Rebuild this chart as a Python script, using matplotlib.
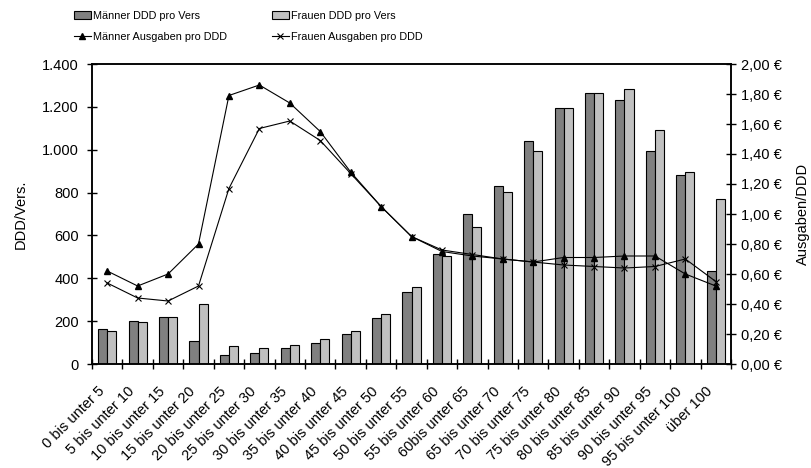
import numpy as np
import matplotlib
matplotlib.use('Agg')
import matplotlib.pyplot as plt
import matplotlib.transforms as mtransforms
from matplotlib.lines import Line2D
from matplotlib.patches import Patch
from matplotlib.ticker import FuncFormatter

# Altersgruppen und Werte
altersgruppen = ['0 bis unter 5', '5 bis unter 10', '10 bis unter 15', '15 bis unter 20',
                 '20 bis unter 25', '25 bis unter 30', '30 bis unter 35', '35 bis unter 40',
                 '40 bis unter 45', '45 bis unter 50', '50 bis unter 55', '55 bis unter 60',
                 '60bis unter 65', '65 bis unter 70', '70 bis unter 75', '75 bis unter 80',
                 '80 bis unter 85', '85 bis unter 90', '90 bis unter 95', '95 bis unter 100',
                 'über 100']
maenner_ddd = [162, 202, 221, 107, 40, 50, 73, 100, 140, 216, 338, 512, 698, 832,
               1042, 1196, 1263, 1230, 994, 880, 432]
frauen_ddd = [155, 198, 221, 282, 86, 73, 89, 115, 156, 233, 358, 502, 641, 804,
              995, 1193, 1263, 1285, 1092, 896, 770]
maenner_ausg = [0.62, 0.52, 0.60, 0.80, 1.79, 1.86, 1.74, 1.55, 1.28, 1.05, 0.85, 0.75,
                0.72, 0.70, 0.68, 0.71, 0.71, 0.72, 0.72, 0.60, 0.52]
frauen_ausg = [0.54, 0.44, 0.42, 0.52, 1.17, 1.57, 1.62, 1.49, 1.27, 1.05, 0.85, 0.76,
               0.73, 0.70, 0.68, 0.66, 0.65, 0.64, 0.65, 0.70, 0.55]

plt.rcParams['font.family'] = ['Liberation Sans', 'DejaVu Sans']

fig = plt.figure(figsize=(8.11, 4.68), dpi=100)
ax = fig.add_axes([92 / 811, 1 - 364 / 468, 639 / 811, 300 / 468])
ax2 = ax.twinx()

x = np.arange(len(altersgruppen))
w = 0.3
ax.bar(x - w / 2, maenner_ddd, w, color='#808080', edgecolor='black', linewidth=0.8, zorder=2)
ax.bar(x + w / 2, frauen_ddd, w, color='#c0c0c0', edgecolor='black', linewidth=0.8, zorder=2)

ax2.plot(x, maenner_ausg, color='black', lw=0.8, marker='^', ms=5, mfc='black', mec='black')
ax2.plot(x, frauen_ausg, color='black', lw=0.8, marker='x', ms=5, mew=0.8)

ax.set_xlim(-0.5, len(x) - 0.5)
ax.set_ylim(0, 1400)
ax2.set_ylim(0, 2.0)
ax.set_yticks(np.arange(0, 1401, 200))
ax2.set_yticks(np.arange(0, 2.01, 0.2))
ax.yaxis.set_major_formatter(FuncFormatter(lambda v, p: f'{int(v):,}'.replace(',', '.')))
ax2.yaxis.set_major_formatter(FuncFormatter(lambda v, p: f'{v:.2f} €'.replace('.', ',')))

# Striche an den Klassengrenzen, Beschriftung in der Mitte
ax.set_xticks(np.arange(-0.5, len(x), 1))
ax.set_xticklabels([])
ax.set_xticks(x, minor=True)
ax.set_xticklabels(altersgruppen, minor=True, rotation=45, ha='right', rotation_mode='anchor',
                   fontsize=10.5)
ax.tick_params(axis='x', which='minor', length=0, pad=14.5)
ax.tick_params(axis='x', which='major', direction='inout', length=7, width=1)
ax.tick_params(axis='y', direction='inout', length=7, width=1, labelsize=10.5, pad=6)
ax2.tick_params(axis='y', direction='inout', length=7, width=1, labelsize=10.5, pad=4)

# Beschriftungen etwas nach links versetzen
shift = mtransforms.ScaledTranslation(-0.10, 0, fig.dpi_scale_trans)
for lbl in ax.get_xticklabels(minor=True):
    lbl.set_transform(lbl.get_transform() + shift)

for a in (ax, ax2):
    for s in a.spines.values():
        s.set_linewidth(1.1)

ax.set_ylabel('DDD/Vers.', fontsize=10.5, labelpad=10)
ax2.set_ylabel('Ausgaben/DDD', fontsize=10.5, labelpad=10)

handles = [Patch(facecolor='#808080', edgecolor='black', linewidth=0.8),
           Line2D([], [], color='black', lw=0.8, marker='^', ms=5),
           Patch(facecolor='#c0c0c0', edgecolor='black', linewidth=0.8),
           Line2D([], [], color='black', lw=0.8, marker='x', ms=5, mew=0.8)]
labels = ['Männer DDD pro Vers', 'Männer Ausgaben pro DDD',
          'Frauen DDD pro Vers', 'Frauen Ausgaben pro DDD']
fig.legend(handles, labels, ncol=2, loc='upper left', bbox_to_anchor=(64 / 811, 1 - 1 / 468),
           frameon=False, prop={'size': 7.8},
           handlelength=1.6, handletextpad=0.2, columnspacing=4.1, labelspacing=1.0)

fig.savefig('out.png', dpi=100, facecolor='white')
